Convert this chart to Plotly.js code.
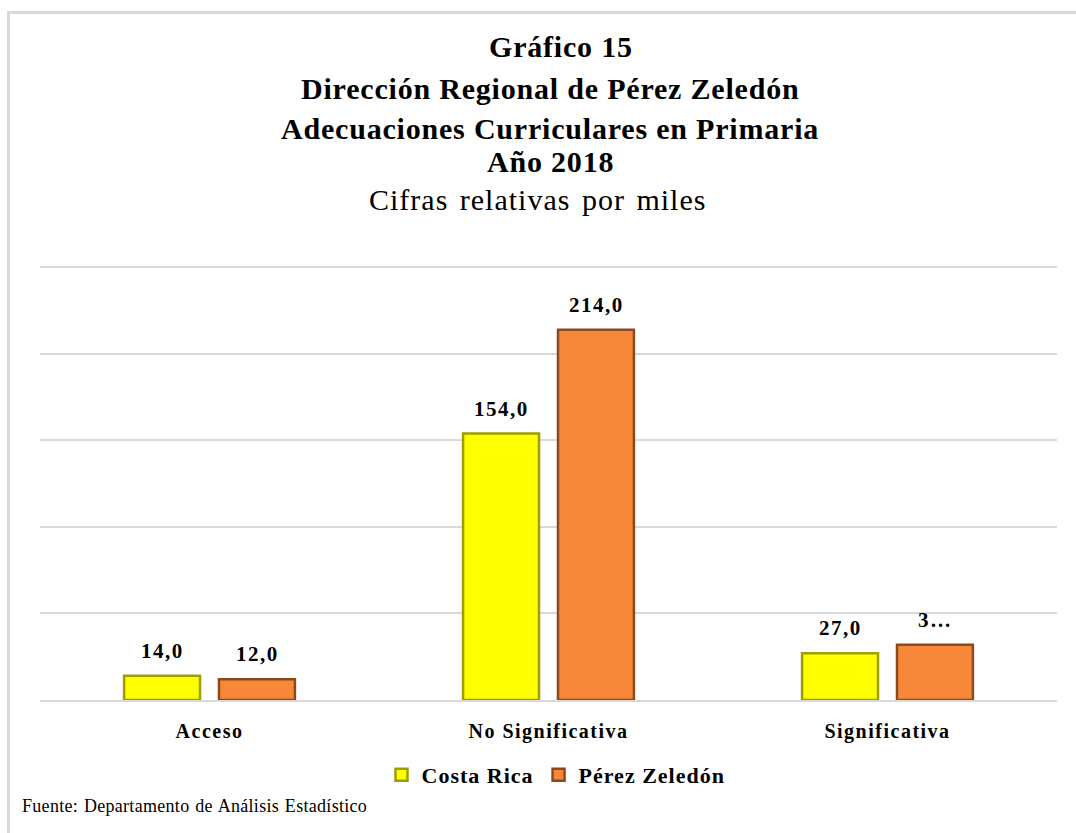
<!DOCTYPE html>
<html>
<head>
<meta charset="utf-8">
<script src="https://cdn.plot.ly/plotly-3.0.1.min.js"></script>
<style>
  html, body { margin: 0; padding: 0; background: #fff; }
  #wrap { position: relative; width: 1076px; height: 833px; }
  #chart { position: absolute; left: 0; top: 0; width: 1076px; height: 833px; }
  #frame { position: absolute; left: 7px; top: 11px; width: 1069px; height: 822px;
           border-left: 3px solid #d9d9d9; border-top: 3px solid #d9d9d9; box-sizing: border-box; pointer-events: none; }
  .xtick text { letter-spacing: 1.5px; }
  .legendtext { letter-spacing: 1px; }
</style>
</head>
<body>
<div id="wrap">
  <div id="chart"></div>
  <div id="frame"></div>
</div>
<script>
// ---- data ----
const categories = ["Acceso", "No Significativa", "Significativa"];
const costaRica = [14, 154, 27];
const perezZeledon = [12, 214, 32];
const seriesNames = ["Costa Rica", "Pérez Zeledón"];
const perezLabels = ["12,0", "214,0", "3…"];   // last label appears truncated in the source
const titleLines = ["Gráfico 15", "Dirección Regional de Pérez Zeledón",
                    "Adecuaciones Curriculares en Primaria", "Año 2018"];
const subtitle = "Cifras relativas por miles";
const sourceNote = "Fuente: Departamento de Análisis Estadístico";
const gridVals = [50, 100, 150, 200, 250];

// ---- layout helpers ----
const W = 1076, H = 833;
const M = { l: 40, r: 19, t: 264, b: 133 };
const plotH = H - M.t - M.b;
const plotW = W - M.l - M.r;
const py = p => (H - M.b - p) / plotH;      // pixel y -> paper y
const px = p => (p - M.l) / plotW;          // pixel x -> paper x
const fmt = v => v.toFixed(1).replace('.', ',');
const sp = (t, ls, ws) => '<span style="letter-spacing:' + ls + 'px;word-spacing:' + (ws || 0) + 'px">' + t + '</span>';
const serif = "Liberation Serif, Times New Roman, serif";

const traces = [
  { type: 'bar', name: seriesNames[0], x: categories, y: costaRica,
    marker: { color: '#FFFF00', line: { color: '#9E9E00', width: 2.5 } }, hoverinfo: 'none' },
  { type: 'bar', name: seriesNames[1], x: categories, y: perezZeledon,
    marker: { color: '#F7883A', line: { color: '#8C4A1C', width: 2.5 } }, hoverinfo: 'none' }
];

const annotations = [];
const titleY = [47, 88, 128, 161];
const titleX = [561, 550, 550, 550];
titleLines.forEach((t, i) => annotations.push({
  text: '<b>' + sp(t, 0.8) + '</b>', xref: 'paper', yref: 'paper', x: px(titleX[i]), y: py(titleY[i]),
  xanchor: 'center', yanchor: 'middle', showarrow: false,
  font: { family: serif, size: 30, color: '#000' }
}));
annotations.push({
  text: sp(subtitle, 1, 3), xref: 'paper', yref: 'paper', x: px(537), y: py(199),
  xanchor: 'center', yanchor: 'middle', showarrow: false,
  font: { family: serif, size: 30, color: '#000' }
});
annotations.push({
  text: sp(sourceNote, 0.3, 1), xref: 'paper', yref: 'paper', x: px(20), y: py(806),
  xanchor: 'left', yanchor: 'middle', showarrow: false,
  font: { family: serif, size: 18, color: '#000' }
});
const off = 47.5;
categories.forEach((c, i) => {
  annotations.push({ text: '<b>' + sp(fmt(costaRica[i]), 1.5) + '</b>', x: c, y: costaRica[i],
    xref: 'x', yref: 'y', xshift: -off, yshift: 11, yanchor: 'bottom', showarrow: false,
    font: { family: serif, size: 21, color: '#000' } });
  annotations.push({ text: '<b>' + sp(perezLabels[i], 1.5) + '</b>', x: c, y: perezZeledon[i],
    xref: 'x', yref: 'y', xshift: off, yshift: 11, yanchor: 'bottom', showarrow: false,
    font: { family: serif, size: 21, color: '#000' } });
});

const layout = {
  width: W, height: H,
  margin: M,
  paper_bgcolor: '#fff', plot_bgcolor: '#fff',
  barmode: 'group', bargap: 0.44, bargroupgap: 0.2,
  showlegend: true,
  legend: { orientation: 'h', x: px(556), xanchor: 'center', y: py(775), yanchor: 'middle',
            font: { family: serif, size: 22, color: '#000', weight: 'bold' },
            itemwidth: 30, traceorder: 'normal' },
  xaxis: { type: 'category', showgrid: false, showline: true, linecolor: '#d9d9d9', linewidth: 2,
           ticks: '', ticklabelstandoff: 12,
           tickfont: { family: serif, size: 20, color: '#000', weight: 'bold' } },
  yaxis: { range: [0, 252], tickvals: gridVals, showgrid: true, gridcolor: '#d9d9d9', gridwidth: 2,
           zeroline: false, showticklabels: false, ticks: '' },
  annotations: annotations
};

Plotly.newPlot('chart', traces, layout, { staticPlot: true, displayModeBar: false });
</script>
</body>
</html>
